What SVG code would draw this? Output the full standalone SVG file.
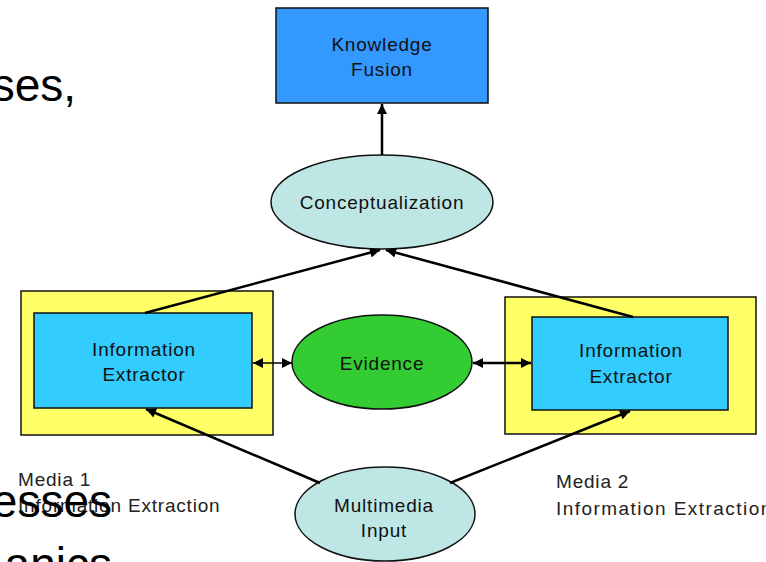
<svg xmlns="http://www.w3.org/2000/svg" width="766" height="562" viewBox="0 0 766 562">
<style>
.bg{font-family:"Liberation Sans",Arial,sans-serif;font-size:46px;fill:#000}
.t{font-family:"Liberation Sans",Arial,sans-serif;font-size:19px;letter-spacing:0.8px;fill:#111;text-anchor:middle}
.lbl{font-family:"Liberation Sans",Arial,sans-serif;font-size:19px;letter-spacing:0.8px;fill:#222}
.edge{stroke:#000;stroke-width:2.5;fill:none}
.box{stroke:#111;stroke-width:1.5}
</style>
<defs>
<marker id="ah" viewBox="0 0 10 10" refX="10" refY="5" markerWidth="12" markerHeight="10" markerUnits="userSpaceOnUse" orient="auto-start-reverse">
<path d="M0,0 L10,5 L0,10 Z" fill="#000"/>
</marker>
</defs>
<rect width="766" height="562" fill="#fff"/>
<text class="bg" x="76" y="101" text-anchor="end">ses,</text>

<g id="knowledge-fusion">
<rect class="box" x="276" y="8" width="212" height="95" fill="#3399ff"/>
<text class="t" x="382" y="51">Knowledge</text>
<text class="t" x="382" y="76">Fusion</text>
</g>
<g id="conceptualization">
<ellipse class="box" cx="382" cy="202" rx="111" ry="47" fill="#bde6e4"/>
<text class="t" x="382" y="209">Conceptualization</text>
</g>
<g id="extractor-1">
<rect class="box" x="21" y="291" width="252" height="144" fill="#ffff66"/>
<rect class="box" x="34" y="313" width="218" height="95" fill="#33ccff"/>
<text class="t" x="144" y="356">Information</text>
<text class="t" x="144" y="381">Extractor</text>
</g>
<g id="extractor-2">
<rect class="box" x="505" y="297" width="251" height="137" fill="#ffff66"/>
<rect class="box" x="532" y="317" width="196" height="93" fill="#33ccff"/>
<text class="t" x="631" y="357">Information</text>
<text class="t" x="631" y="383">Extractor</text>
</g>
<g id="evidence">
<ellipse class="box" cx="382" cy="362" rx="90" ry="47" fill="#33cc33"/>
<text class="t" x="382" y="370">Evidence</text>
</g>
<g id="multimedia-input">
<ellipse class="box" cx="385" cy="514" rx="90" ry="47" fill="#bde6e4"/>
<text class="t" x="384" y="512">Multimedia</text>
<text class="t" x="384" y="537">Input</text>
</g>

<g id="connectors">
<line class="edge" x1="382" y1="155" x2="382" y2="104" marker-end="url(#ah)"/>
<line class="edge" x1="145" y1="313" x2="380" y2="250" marker-end="url(#ah)"/>
<line class="edge" x1="633" y1="317" x2="386" y2="250" marker-end="url(#ah)"/>
<line class="edge" x1="320" y1="483" x2="146" y2="409" marker-end="url(#ah)"/>
<line class="edge" x1="450" y1="483" x2="630" y2="411" marker-end="url(#ah)"/>
<line class="edge" style="stroke-width:1.5" x1="253" y1="363" x2="292" y2="363" marker-start="url(#ah)" marker-end="url(#ah)"/>
<line class="edge" x1="473" y1="363" x2="531" y2="363" marker-start="url(#ah)" marker-end="url(#ah)"/>
</g>

<g id="labels">
<text class="lbl" x="18" y="486">Media 1</text>
<text class="lbl" x="18" y="512">Information Extraction</text>
<text class="lbl" x="556" y="488">Media 2</text>
<text class="lbl" x="556" y="515" style="letter-spacing:1.45px">Information Extraction</text>
</g>
<text class="bg" x="112" y="517" text-anchor="end">esses</text>
<text class="bg" x="112" y="580" text-anchor="end">anics</text>
</svg>
